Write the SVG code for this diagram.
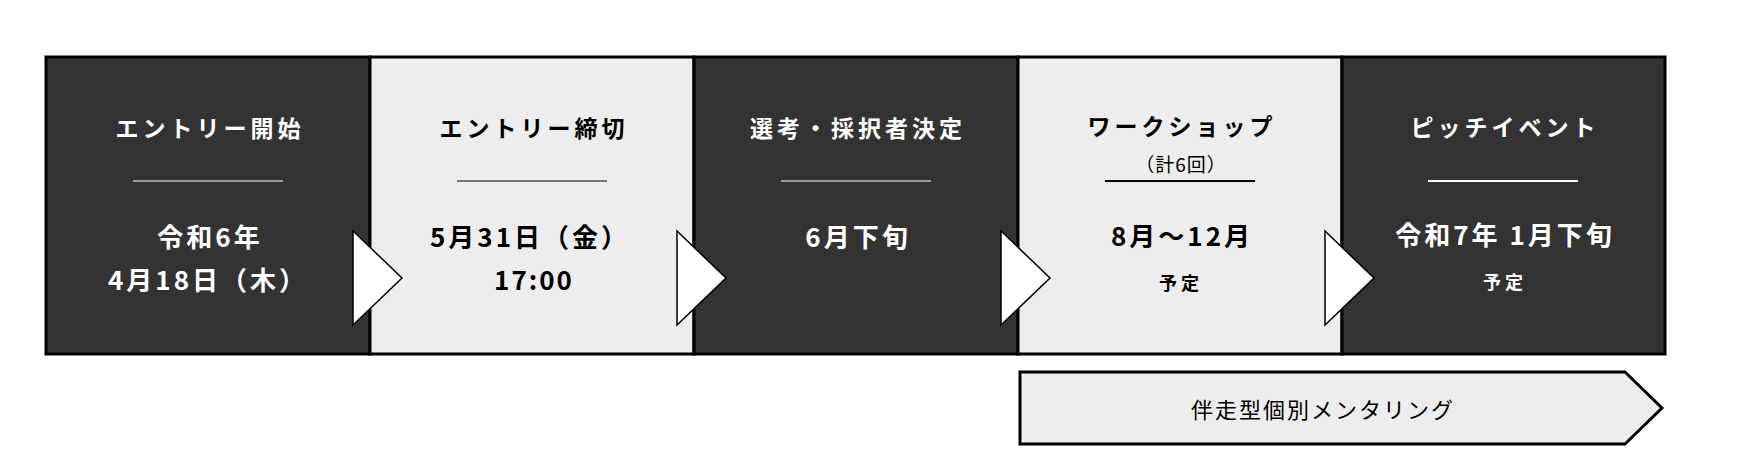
<svg xmlns="http://www.w3.org/2000/svg" width="1740" height="464" viewBox="0 0 1740 464">
<style>
.dark{fill:#333333;stroke:#000;stroke-width:3}
.light{fill:#EDEDED;stroke:#000;stroke-width:3}
text{font-family:"Noto Sans CJK JP","Noto Sans",sans-serif;font-weight:bold;text-anchor:middle;dominant-baseline:central}
.t{font-size:23px;letter-spacing:4px}
.d{font-size:26px;letter-spacing:3px}
.s{font-size:18px;letter-spacing:4px}
.c{font-size:19px;letter-spacing:1px;font-weight:normal}
.w{fill:#fff}
.b{fill:#000}
.arrow{fill:#fff;stroke:#000;stroke-width:1.5}
.m{font-size:22px;letter-spacing:2px;font-weight:normal}
</style>
<rect x="0" y="0" width="1740" height="464" fill="#fff"/>
<g id="entry-start">
<rect class="dark" x="46" y="57" width="324" height="297"/>
<text class="t w" x="210" y="127">エントリー開始</text>
<line x1="133" y1="181" x2="283" y2="181" stroke="#fff" stroke-width="1"/>
<text class="d w" x="210" y="235">令和6年</text>
<text class="d w" x="208" y="278">4月18日（木）</text>
</g>
<g id="entry-deadline">
<rect class="light" x="370" y="57" width="324" height="297"/>
<text class="t b" x="534" y="127">エントリー締切</text>
<line x1="457" y1="181" x2="607" y2="181" stroke="#000" stroke-width="1"/>
<text class="d b" x="530" y="235">5月31日（金）</text>
<text class="d b" x="534" y="278" style="letter-spacing:2px">17:00</text>
</g>
<g id="selection">
<rect class="dark" x="694" y="57" width="324" height="297"/>
<text class="t w" x="858" y="127">選考・採択者決定</text>
<line x1="781" y1="181" x2="931" y2="181" stroke="#fff" stroke-width="1"/>
<text class="d w" x="858" y="235">6月下旬</text>
</g>
<g id="workshop">
<rect class="light" x="1018" y="57" width="324" height="297"/>
<text class="t b" x="1182" y="125">ワークショップ</text>
<text class="c b" x="1181" y="163">（計6回）</text>
<line x1="1105" y1="181" x2="1255" y2="181" stroke="#000" stroke-width="2"/>
<text class="d b" x="1182" y="234">8月～12月</text>
<text class="s b" x="1181" y="282">予定</text>
</g>
<g id="pitch-event">
<rect class="dark" x="1342" y="57" width="323" height="297"/>
<text class="t w" x="1505" y="126">ピッチイベント</text>
<line x1="1428" y1="181" x2="1578" y2="181" stroke="#fff" stroke-width="2"/>
<text class="d w" x="1505" y="233">令和7年 1月下旬</text>
<text class="s w" x="1505" y="281">予定</text>
</g>
<g id="connectors">
<polygon class="arrow" points="353,231 402,278 353,325"/>
<polygon class="arrow" points="677,231 726,278 677,325"/>
<polygon class="arrow" points="1001,231 1050,278 1001,325"/>
<polygon class="arrow" points="1325,231 1374,278 1325,325"/>
</g>
<g id="mentoring">
<polygon class="light" points="1020,372 1625,372 1662,408 1625,444 1020,444"/>
<text class="m b" x="1323" y="408">伴走型個別メンタリング</text>
</g>
</svg>
